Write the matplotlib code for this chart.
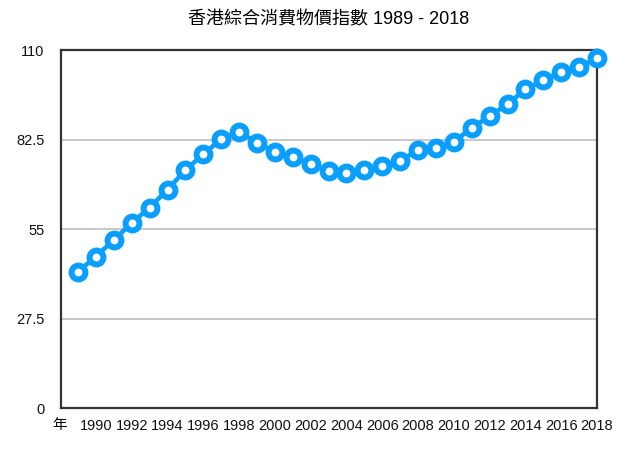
import numpy as np
import matplotlib.pyplot as plt

# 香港綜合消費物價指數 (從圖中讀取的估計值)
years = list(range(1989, 2019))
cpi = [41.9, 46.5, 51.7, 56.8, 61.6, 67.1, 73.1, 78.0, 82.6, 84.9,
       81.5, 78.6, 77.1, 74.9, 72.7, 72.3, 73.0, 74.4, 75.9, 79.3,
       79.8, 81.8, 86.1, 89.7, 93.4, 97.9, 100.7, 103.1, 104.9, 107.4]

y_ticks = [0, 27.5, 55, 82.5, 110]
y_tick_labels = ["0", "27.5", "55", "82.5", "110"]
x_ticks = list(range(1990, 2019, 2))

plt.rcParams['font.family'] = ['Liberation Sans', 'Noto Sans CJK TC', 'DejaVu Sans']

blue = "#0a9fff"

fig = plt.figure(figsize=(6.43, 4.49), dpi=100)
ax = fig.add_axes([0.0949, 0.0913, 0.8336, 0.7973])

ax.plot(years, cpi, color=blue, lw=3.3, marker="o", ms=10, mew=4.3,
        mfc="white", mec=blue, clip_on=False, zorder=3)

ax.set_xlim(1988.05, 2018)
ax.set_ylim(0, 110)
ax.set_yticks(y_ticks)
ax.set_yticklabels(y_tick_labels)
ax.set_xticks(x_ticks)
ax.set_xticklabels([str(y) for y in x_ticks])
ax.tick_params(axis="both", length=0, labelsize=10.5, colors="#111111")
ax.tick_params(axis="y", pad=12)
ax.tick_params(axis="x", pad=8)

ax.grid(axis="y", color="#c4c4c4", lw=1.3)
ax.set_axisbelow(True)
for s in ax.spines.values():
    s.set_color("#333333")
    s.set_linewidth(1.6)

fig.text(60 / 643, 1 - 425 / 449, "年", ha="center", va="center",
         fontsize=10.5, family=["Noto Sans CJK TC"])
fig.suptitle("香港綜合消費物價指數 1989 - 2018", x=329 / 643, y=1 - 20 / 449,
             va="center", fontsize=13, family=["Liberation Sans", "Noto Sans CJK TC"])

fig.savefig("out.png", dpi=100)
